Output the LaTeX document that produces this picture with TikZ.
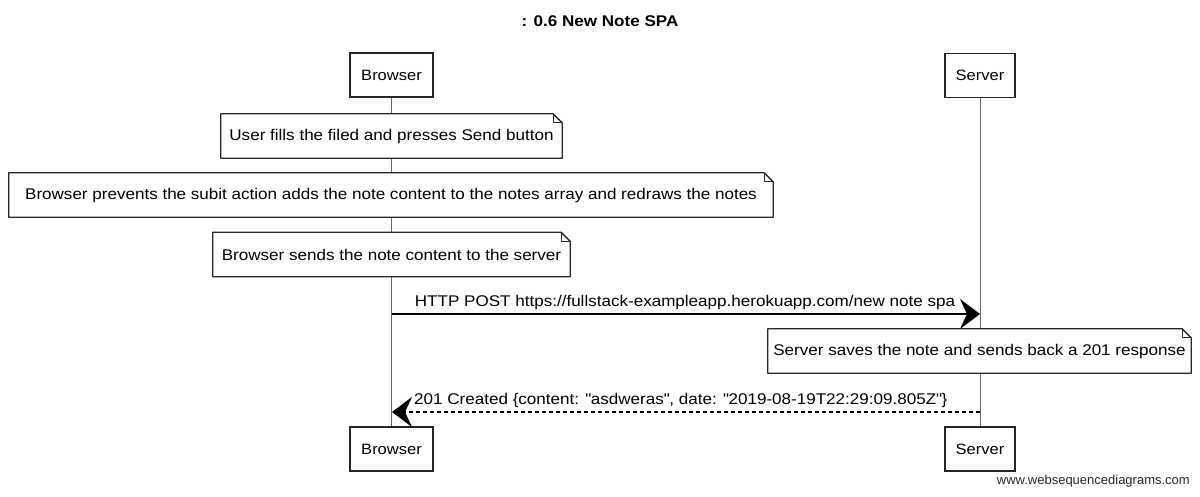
\documentclass[tikz,border=0pt]{standalone}
\usepackage{fontspec}
\setmainfont[FakeStretch=1.1]{Liberation Sans}
\newfontfamily\wmfont{Liberation Sans}
\usetikzlibrary{arrows.meta}
\tikzset{
  basefont/.style={font=\fontsize{15.5}{18}\selectfont},
  actorbox/.style={draw=black!85, line width=1.3pt, fill=white, minimum height=44, inner sep=0, font=\fontsize{15}{18}\selectfont},
  notebox/.style={minimum height=44, inner sep=0, basefont},
  noteline/.style={draw=black!85, line width=1.3pt, fill=white, line join=round},
  lifeline/.style={draw=black!60, line width=1pt},
  msgline/.style={draw=black, line width=1.3pt, -{Stealth[length=20pt, width=30pt, inset=7pt]}},
  msglabel/.style={basefont, inner sep=0}
}
\newcommand\drawnote[1]{%
  \path[noteline] (#1.north west) -- ([xshift=-9pt]#1.north east) -- ([yshift=-9pt]#1.north east) -- (#1.south east) -- (#1.south west) -- cycle;
  \draw[black!85, line width=1pt, line join=round] ([xshift=-9pt]#1.north east) -- ([xshift=-9pt,yshift=-9pt]#1.north east) -- ([yshift=-9pt]#1.north east);
}
\begin{document}
\begin{tikzpicture}[x=1pt,y=-1pt]
\useasboundingbox (0,0) rectangle (1200,496);

\node[font=\fontsize{15.5}{18}\selectfont\bfseries] (title) at (600,21) {: 0.6 New Note SPA};

% actors
\node[actorbox, minimum width=83] (bt) at (391.5,75) {Browser};
\node[actorbox, minimum width=70] (st) at (980,75.5) {Server};
\node[actorbox, minimum width=83] (bb) at (391.5,449) {Browser};
\node[actorbox, minimum width=70] (sb) at (980,449) {Server};

% lifelines
\draw[lifeline] (bt.south) -- (bb.north);
\draw[lifeline] (st.south) -- (sb.north);

% notes
\node[notebox, minimum width=341] (n1) at (391.5,136) {};
\drawnote{n1}
\node[basefont] (n1t) at (n1.center) {User fills the filed and presses Send button};

\node[notebox, minimum width=764] (n2) at (391,195) {};
\drawnote{n2}
\node[basefont] (n2t) at (n2.center) {Browser prevents the subit action adds the note content to the notes array and redraws the notes};

\node[notebox, minimum width=357] (n3) at (391.5,254.5) {};
\drawnote{n3}
\node[basefont] (n3t) at (n3.center) {Browser sends the note content to the server};

% messages
\coordinate (m1a) at (392,314);
\coordinate (m1b) at (980,314);
\draw[msgline] (m1a) -- (m1b);
\node[msglabel] (l1) at (685,302) {HTTP POST https://fullstack-exampleapp.herokuapp.com/new note spa};

\node[notebox, minimum width=423] (n4) at (979.5,351) {};
\drawnote{n4}
\node[basefont] (n4t) at (n4.center) {Server saves the note and sends back a 201 response};

\coordinate (m2a) at (980,412);
\coordinate (m2b) at (392,412);
\draw[msgline, dashed, dash pattern=on 4pt off 3pt] (m2a) -- (m2b);
\node[msglabel, anchor=west] (l2) at (414,400) {201 Created \{content: \textquotedbl asdweras\textquotedbl, date: \textquotedbl 2019-08-19T22:29:09.805Z\textquotedbl\}};

\node[font=\wmfont\fontsize{13}{15}\selectfont, anchor=east, inner sep=0, text=black!85] (wm) at (1190,481) {www.websequencediagrams.com};
\end{tikzpicture}
\end{document}
